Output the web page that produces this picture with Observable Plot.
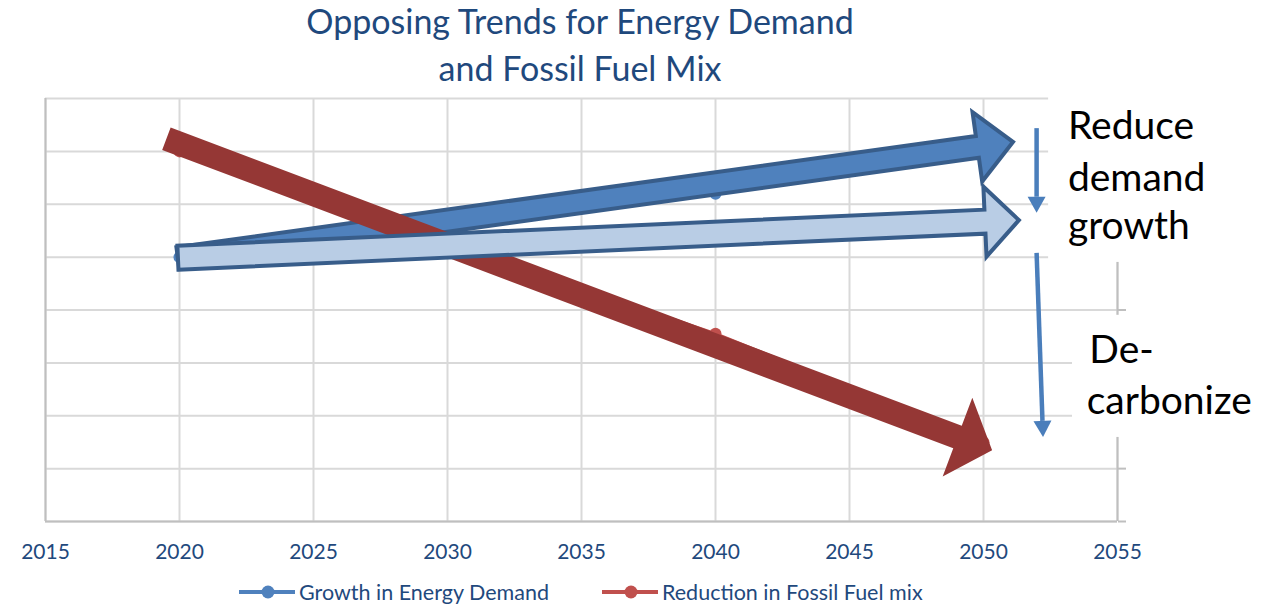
<!DOCTYPE html>
<html>
<head>
<meta charset="utf-8">
<script src="https://cdn.jsdelivr.net/npm/d3@7"></script>
<script src="https://cdn.jsdelivr.net/npm/@observablehq/plot@0.6"></script>
<style>
  body { margin: 0; background: #fff; }
  #wrap { position: relative; width: 1264px; height: 605px; overflow: hidden; font-family: Lato, "Open Sans", sans-serif; }
  #chart { position: absolute; left: 0; top: 0; }
  .title { position: absolute; left: 0; width: 1160px; text-align: center; color: #1f497d; font-size: 34px; line-height: 38px; white-space: nowrap; }
  .leg { position: absolute; top: 580px; height: 24px; display: flex; align-items: center; color: #1f497d; font-size: 21.5px; white-space: nowrap; }
  .leg svg { margin-right: 3px; }
</style>
</head>
<body>
<div id="wrap">
  <div class="title" style="top:2px">Opposing Trends for Energy Demand</div>
  <div class="title" style="top:49px">and Fossil Fuel Mix</div>
  <div id="chart"></div>
  <div id="legend"></div>
</div>
<script>
// ---- data ----
const years = [2020, 2040, 2050];
const demandGrowth = [5.0, 6.2, 7.0];
const fossilReduction = [7.0, 3.55, 1.5];
const seriesNames = ["Growth in Energy Demand", "Reduction in Fossil Fuel mix"];
const seriesColors = ["#4f81bd", "#c0504d"];
const xTicks = [2015, 2020, 2025, 2030, 2035, 2040, 2045, 2050, 2055];
const yTicks = [0, 1, 2, 3, 4, 5, 6, 7, 8];

// overlay block arrows (data coordinates: tail -> tip)
const blockArrowNames = ["demand", "fossil", "reducedDemand"];
const blockTail = [[2019.96, 4.97], [2019.53, 7.23], [2019.96, 4.98]];
const blockTip = [[2051.12, 7.17], [2050.34, 1.34], [2051.34, 5.69]];

// thin vertical arrows (data coordinates)
const thinTail = [[2052.0, 7.43], [2052.0, 5.07]];
const thinTip = [[2052.0, 5.83], [2052.24, 1.59]];

// annotation text lines
const noteText = ["Reduce", "demand", "growth", "De-", "carbonize"];
const noteX = [2053.15, 2053.15, 2053.15, 2053.95, 2053.85];
const noteY = [7.24, 6.26, 5.35, 2.99, 2.04];

// white label backgrounds [x1, x2, y1, y2]
const noteBoxes = [[2052.43, 2056.5, 4.9, 8.4], [2053.32, 2056.5, 1.59, 3.9]];

// ---- build tables ----
const rows = [];
years.forEach((yr, i) => {
  rows.push({year: yr, value: demandGrowth[i], series: seriesNames[0]});
  rows.push({year: yr, value: fossilReduction[i], series: seriesNames[1]});
});
const notes = noteText.map((t, i) => ({text: t, x: noteX[i], y: noteY[i]}));
const boxes = noteBoxes.map(b => ({x1: b[0], x2: b[1], y1: b[2], y2: b[3]}));
const grid = "#d9d9d9", axisCol = "#bfbfbf";

const chart = Plot.plot({
  width: 1264,
  height: 605,
  marginLeft: 45,
  marginRight: 147,
  marginTop: 98,
  marginBottom: 84,
  style: {fontFamily: "Lato, 'Open Sans', sans-serif", fontSize: "20px", background: "transparent", overflow: "visible"},
  x: {domain: [2015, 2055], axis: null},
  y: {domain: [0, 8], axis: null},
  color: {domain: seriesNames, range: seriesColors},
  marks: [
    Plot.ruleY(yTicks, {stroke: grid, strokeWidth: 2}),
    Plot.ruleX(xTicks, {stroke: grid, strokeWidth: 2}),
    Plot.axisY({anchor: "right", ticks: yTicks, tickSize: 8, tickFormat: () => "", stroke: axisCol, strokeWidth: 2, strokeOpacity: 1}),
    Plot.ruleX([2015, 2055], {stroke: axisCol, strokeWidth: 2}),
    Plot.ruleY([0], {stroke: axisCol, strokeWidth: 2}),
    Plot.axisX({ticks: xTicks, tickSize: 0, tickPadding: 23, tickFormat: d => String(d), fill: "#1f497d", fontSize: 21, label: null}),
    Plot.line(rows, {x: "year", y: "value", z: "series", stroke: "series", strokeWidth: 3.5}),
    Plot.dot(rows, {x: "year", y: "value", fill: "series", r: 6}),
    Plot.rect(boxes, {x1: "x1", x2: "x2", y1: "y1", y2: "y2", fill: "white"}),
    Plot.text(notes, {x: "x", y: "y", text: "text", textAnchor: "start", lineAnchor: "bottom", fontSize: 39, fill: "black"})
  ]
});
document.getElementById("chart").appendChild(chart);

// ---- overlay arrows drawn through the chart's scales ----
const sx = chart.scale("x").apply, sy = chart.scale("y").apply;
const svg = d3.select(chart);
const g = svg.append("g").attr("class", "overlay");

function blockArrowPath(tail, tip, w, hw, hl) {
  const x0 = sx(tail[0]), y0 = sy(tail[1]), x1 = sx(tip[0]), y1 = sy(tip[1]);
  const dx = x1 - x0, dy = y1 - y0, L = Math.hypot(dx, dy);
  const ux = dx / L, uy = dy / L, nx = -uy, ny = ux;
  const bx = x1 - ux * hl, by = y1 - uy * hl;
  const p = [
    [x0 + nx * w / 2, y0 + ny * w / 2],
    [bx + nx * w / 2, by + ny * w / 2],
    [bx + nx * hw / 2, by + ny * hw / 2],
    [x1, y1],
    [bx - nx * hw / 2, by - ny * hw / 2],
    [bx - nx * w / 2, by - ny * w / 2],
    [x0 - nx * w / 2, y0 - ny * w / 2]
  ];
  return "M" + p.map(d => d.join(",")).join("L") + "Z";
}

const blockStyle = {
  demand: {fill: "#4f81bd", stroke: "#385d8a", sw: 4, w: 22, hw: 70, hl: 36},
  fossil: {fill: "#953735", stroke: "none", sw: 0, w: 24, hw: 84, hl: 37},
  reducedDemand: {fill: "#b9cde5", stroke: "#385d8a", sw: 4, w: 24, hw: 70, hl: 34}
};
blockArrowNames.forEach((name, i) => {
  const s = blockStyle[name];
  g.append("path")
    .attr("d", blockArrowPath(blockTail[i], blockTip[i], s.w, s.hw, s.hl))
    .attr("fill", s.fill)
    .attr("stroke", s.stroke)
    .attr("stroke-width", s.sw)
    .attr("stroke-linejoin", "miter");
});

thinTail.forEach((t, i) => {
  const x0 = sx(t[0]), y0 = sy(t[1]), x1 = sx(thinTip[i][0]), y1 = sy(thinTip[i][1]);
  const dx = x1 - x0, dy = y1 - y0, L = Math.hypot(dx, dy);
  const ux = dx / L, uy = dy / L, nx = -uy, ny = ux;
  const hl = 16, hw = 18;
  const bx = x1 - ux * hl, by = y1 - uy * hl;
  g.append("line").attr("x1", x0).attr("y1", y0).attr("x2", bx).attr("y2", by)
    .attr("stroke", "#4a7ebb").attr("stroke-width", 4.5);
  g.append("path")
    .attr("d", `M${x1},${y1}L${bx + nx * hw / 2},${by + ny * hw / 2}L${bx - nx * hw / 2},${by - ny * hw / 2}Z`)
    .attr("fill", "#4a7ebb");
});

// ---- legend ----
const legend = document.getElementById("legend");
const legendLeft = [238, 601];
seriesNames.forEach((name, i) => {
  const item = document.createElement("div");
  item.className = "leg";
  item.style.left = legendLeft[i] + "px";
  item.innerHTML = `<svg width="58" height="16"><line x1="1" x2="57" y1="8" y2="8" stroke="${seriesColors[i]}" stroke-width="4"/><circle cx="30" cy="8" r="6.5" fill="${seriesColors[i]}"/></svg><span>${name}</span>`;
  legend.appendChild(item);
});
</script>
</body>
</html>
